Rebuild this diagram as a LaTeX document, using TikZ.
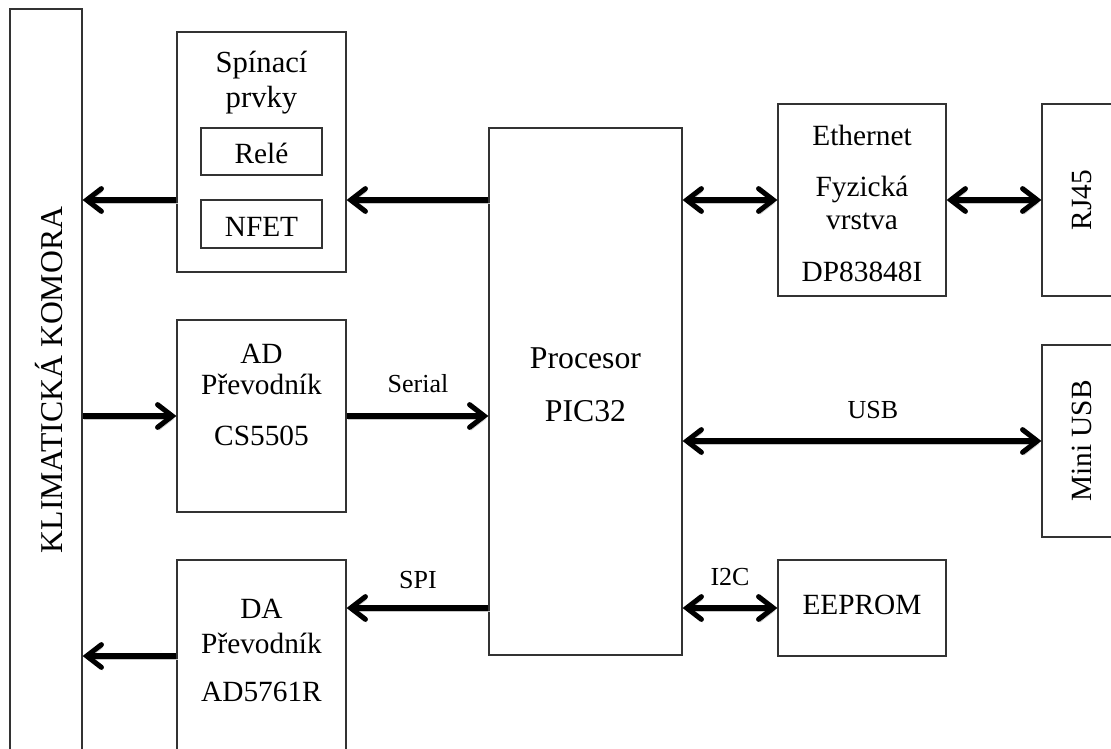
\documentclass[tikz,border=0pt]{standalone}
\usepackage{fontspec}
\setmainfont{Liberation Serif}
\usetikzlibrary{arrows.meta}

\begin{document}
\begin{tikzpicture}[x=0.75pt,y=0.75pt,yscale=-1,xscale=1,
  blok/.style={draw=black!80, line width=0.9pt, inner sep=0pt},
  txt/.style={anchor=base, inner sep=0.75pt, font=\fontsize{22}{26}\selectfont},
  velky/.style={txt, font=\fontsize{23.8}{28}\selectfont},
  popis/.style={anchor=base, inner sep=0.75pt, font=\fontsize{19.5}{23}\selectfont},
  stin/.style={preaction={draw=black!22, transform canvas={xshift=1pt, yshift=-2.2pt}}},
  sipka/.style={stin, line width=3.8pt, -{Straight Barb[length=11pt,width=17pt,line cap=round]}},
  dvojsipka/.style={stin, line width=3.8pt, {Straight Barb[length=11pt,width=17pt,line cap=round]}-{Straight Barb[length=11pt,width=17pt,line cap=round]}}]
%set diagram left start at 0, and has height of 749
\useasboundingbox (0,0) rectangle (1111,749);

%Shape: Rectangle
\node [blok, minimum width=54pt, minimum height=559.5pt] (komora) at (46,382) {};
%Shape: Rectangle
\node [blok, minimum width=126.75pt, minimum height=180pt] (spin) at (261.5,152) {};
%Shape: Rectangle
\node [blok, minimum width=90.75pt, minimum height=35.25pt] (rele) at (261.5,151.5) {};
%Shape: Rectangle
\node [blok, minimum width=90.75pt, minimum height=36pt] (nfet) at (261.5,224) {};
%Shape: Rectangle
\node [blok, minimum width=126.75pt, minimum height=144pt] (ad) at (261.5,416) {};
%Shape: Rectangle
\node [blok, minimum width=126.75pt, minimum height=144pt] (da) at (261.5,656) {};
%Shape: Rectangle
\node [blok, minimum width=144.75pt, minimum height=395.25pt] (proc) at (585.5,391.5) {};
%Shape: Rectangle
\node [blok, minimum width=126pt, minimum height=144pt] (eth) at (862,200) {};
%Shape: Rectangle
\node [blok, minimum width=126pt, minimum height=72pt] (eep) at (862,608) {};
%Shape: Rectangle
\node [blok, minimum width=54pt, minimum height=144pt] (rj) at (1078,200) {};
%Shape: Rectangle
\node [blok, minimum width=54pt, minimum height=144pt] (usb) at (1078,441) {};

%Straight Lines
\draw [sipka] (spin.west |- eth.west) -- (komora.east |- eth.west);
%Straight Lines
\draw [sipka] (proc.west |- eth.west) -- (spin.east |- eth.west);
%Straight Lines
\draw [dvojsipka] (proc.east |- eth.west) -- (eth.west);
%Straight Lines
\draw [dvojsipka] (eth.east) -- (rj.west);
%Straight Lines
\draw [sipka] (komora.east |- ad.west) -- (ad.west);
%Straight Lines
\draw [sipka] (ad.east) -- (proc.west |- ad.east);
%Straight Lines
\draw [dvojsipka] (proc.east |- usb.west) -- (usb.west);
%Straight Lines
\draw [sipka] (proc.west |- eep.west) -- (da.east |- eep.west);
%Straight Lines
\draw [dvojsipka] (proc.east |- eep.west) -- (eep.west);
%Straight Lines
\draw [sipka] (da.west) -- (komora.east |- da.west);

% Text Node
\node [velky, rotate=90] (komoratxt) at (62,380) {KLIMATICKÁ KOMORA};
% Text Node
\node [txt, font=\fontsize{23}{27}\selectfont] (spin1) at (261.5,73) {Spínací};
\node [txt, font=\fontsize{23}{27}\selectfont] (spin2) at (261.5,108) {prvky};
\node [txt] (reletxt) at (261.5,163) {Relé};
\node [txt] (nfettxt) at (261.5,236) {NFET};
% Text Node
\node [txt] (ad1) at (261.5,363) {AD};
\node [txt] (ad2) at (261.5,394) {Převodník};
\node [txt] (ad3) at (261.5,445) {CS5505};
% Text Node
\node [txt] (da1) at (261.5,618) {DA};
\node [txt] (da2) at (261.5,653) {Převodník};
\node [txt] (da3) at (261.5,701) {AD5761R};
% Text Node
\node [velky] (proc1) at (585.5,368) {Procesor};
\node [velky] (proc2) at (585.5,421) {PIC32};
% Text Node
\node [txt] (eth1) at (862,146) {Ethernet};
\node [txt] (eth2) at (862,196) {Fyzická};
\node [txt] (eth3) at (862,229) {vrstva};
\node [txt] (eth4) at (862,281) {DP83848I};
% Text Node
\node [txt] (eeptxt) at (862,614) {EEPROM};
% Text Node
\node [txt, rotate=90] (rjtxt) at (1091,200) {RJ45};
\node [txt, rotate=90] (usbtxt) at (1091,441) {Mini USB};
% Text Node
\node [popis] (serial) at (418,392) {Serial};
\node [popis] (spi) at (418,588) {SPI};
\node [popis] (usbpopis) at (873,418) {USB};
\node [popis] (i2c) at (730,585) {I2C};

\end{tikzpicture}
\end{document}
